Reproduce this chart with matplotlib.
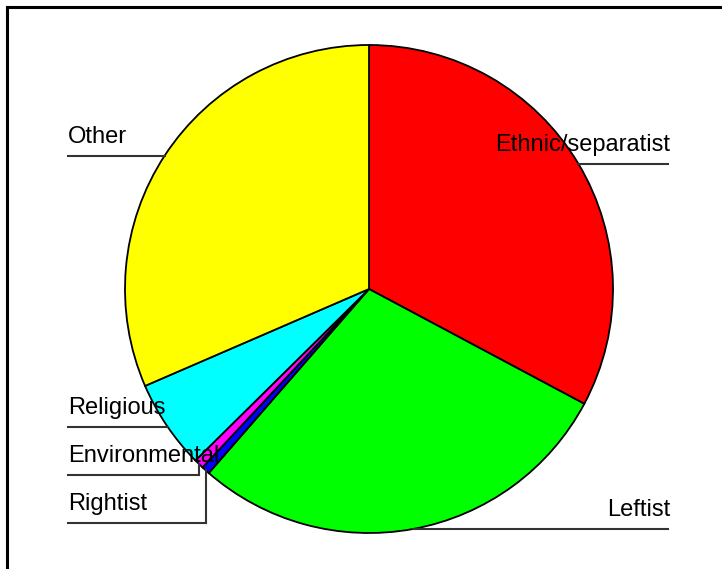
import matplotlib.pyplot as plt
import numpy as np

plt.rcParams['font.family'] = ['Liberation Sans', 'DejaVu Sans']

# slices, clockwise from 12 o'clock
groups = ['Ethnic/separatist', 'Leftist', 'Rightist', 'Environmental', 'Religious', 'Other']
shares = [32.8, 28.6, 0.55, 0.65, 5.9, 31.5]
colors = ['#FF0000', '#00FF00', '#0000FF', '#FF00FF', '#00FFFF', '#FFFF00']

# label layout (pixel rows of the underline, side of the chart)
label_side = ['right', 'right', 'left', 'left', 'left', 'left']
label_row = [164, 529, 523, 475, 427, 156]

W, H = 722, 569
cx, cy, r = 369, 289, 244

fig = plt.figure(figsize=(W / 100, H / 100), dpi=100)
ax = fig.add_axes([0, 0, 1, 1])

wedges, _ = ax.pie(shares, colors=colors, startangle=90, counterclock=False,
                   center=(cx, H - cy), radius=r, frame=True,
                   wedgeprops=dict(edgecolor='black', linewidth=1.3))
ax.set_xlim(0, W)
ax.set_ylim(0, H)
ax.set_aspect('equal')
ax.axis('off')

for w, name, side, row in zip(wedges, groups, label_side, label_row):
    mid = np.deg2rad((w.theta1 + w.theta2) / 2)
    px = cx + r * np.cos(mid)
    py = H - cy + r * np.sin(mid)
    ly = H - row
    if side == 'left':
        ax.plot([68, px], [ly, ly], color='#333333', lw=1.5, clip_on=False)
        ax.text(68, ly + 13, name, ha='left', va='baseline', fontsize=17)
    else:
        ax.plot([px, 668], [ly, ly], color='#333333', lw=1.5, clip_on=False)
        ax.text(670, ly + 13, name, ha='right', va='baseline', fontsize=17)
    if abs(ly - py) > 2:
        ax.plot([px, px], [ly, py], color='#333333', lw=1.5)

# frame (top and left edges)
ax.plot([7, W], [H - 7, H - 7], color='black', lw=2.2)
ax.plot([7, 7], [0, H - 7], color='black', lw=2.2)

fig.savefig('out.png', dpi=100)
